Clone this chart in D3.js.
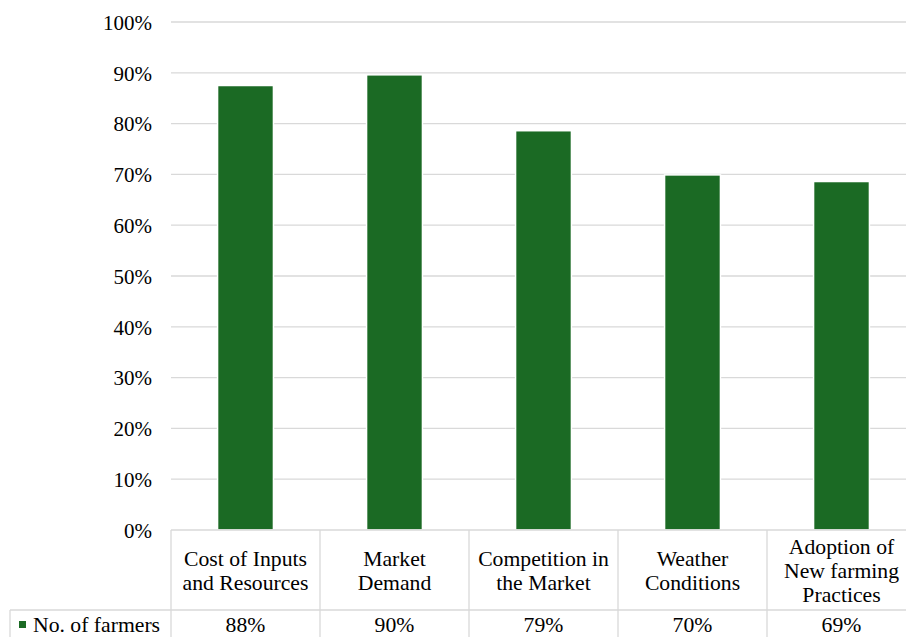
<!DOCTYPE html>
<html>
<head>
<meta charset="utf-8">
<script src="https://cdn.jsdelivr.net/npm/d3@7"></script>
<style>
  body { margin: 0; background: #fff; }
  svg { display: block; }
</style>
</head>
<body>
<svg width="906" height="637"></svg>
<script>
// dati
const categories = [
  ["Cost of Inputs", "and Resources"],
  ["Market", "Demand"],
  ["Competition in", "the Market"],
  ["Weather", "Conditions"],
  ["Adoption of", "New farming", "Practices"]
];
const seriesName = "No. of farmers";
const values = [87.5, 89.6, 78.6, 69.9, 68.6];
const valueLabels = ["88%", "90%", "79%", "70%", "69%"];
const yTicks = [0, 10, 20, 30, 40, 50, 60, 70, 80, 90, 100];

const svg = d3.select("svg");
const font = "'Liberation Serif', 'Times New Roman', serif";
const green = "#1b6a24";
const gridColor = "#d9d9d9";

const plot = { left: 171, right: 916, top: 22, bottom: 530 };
const catRowBottom = 610;
const tableLeft = 10;

const x = d3.scaleBand()
  .domain(d3.range(categories.length))
  .range([plot.left, plot.right])
  .padding(0);

const y = d3.scaleLinear()
  .domain([0, 100])
  .range([plot.bottom, plot.top]);

const barRatio = 0.375;

// griglia orizzontale
svg.append("g")
  .selectAll("line")
  .data(yTicks.filter(d => d > 0))
  .enter()
  .append("line")
  .attr("x1", plot.left)
  .attr("x2", plot.right)
  .attr("y1", d => y(d))
  .attr("y2", d => y(d))
  .style("stroke", gridColor)
  .style("stroke-width", 1.3);

// asse y con etichette
const axis = d3.axisLeft(y)
  .tickValues(yTicks)
  .tickSize(0)
  .tickPadding(19)
  .tickFormat(d => d + "%");

const gAxis = svg.append("g")
  .attr("transform", `translate(${plot.left},0)`)
  .call(axis);
gAxis.select(".domain").remove();
gAxis.selectAll("text")
  .attr("font-family", font)
  .attr("font-size", "21px")
  .attr("fill", "#000")
  .attr("dy", "0.35em");

// barre
svg.append("g")
  .selectAll("rect")
  .data(values)
  .enter()
  .append("rect")
  .attr("x", (d, i) => x(i) + x.bandwidth() * (1 - barRatio) / 2)
  .attr("width", x.bandwidth() * barRatio)
  .attr("y", d => y(d))
  .attr("height", d => y(0) - y(d))
  .style("fill", green)
  .style("stroke", "#fff")
  .style("stroke-width", 1.5);

// tabella dati
const table = svg.append("g")
  .style("stroke", gridColor)
  .style("stroke-width", 1.3);

// linee orizzontali
table.append("line")
  .attr("x1", plot.left).attr("x2", plot.right)
  .attr("y1", plot.bottom).attr("y2", plot.bottom);
table.append("line")
  .attr("x1", tableLeft).attr("x2", plot.right)
  .attr("y1", catRowBottom).attr("y2", catRowBottom);

// linee verticali
const vlines = d3.range(categories.length + 1).map(i => plot.left + i * x.bandwidth());
table.selectAll(".v")
  .data(vlines)
  .enter()
  .append("line")
  .attr("x1", d => d).attr("x2", d => d)
  .attr("y1", plot.bottom).attr("y2", 640);
table.append("line")
  .attr("x1", tableLeft).attr("x2", tableLeft)
  .attr("y1", catRowBottom).attr("y2", 640);

// nomi delle categorie
const lh = 24;
const rowMid = (plot.bottom + catRowBottom) / 2;
categories.forEach((lines, i) => {
  const t = svg.append("text")
    .attr("font-family", font)
    .attr("font-size", "21.7px")
    .attr("fill", "#000")
    .attr("text-anchor", "middle");
  lines.forEach((ln, k) => {
    t.append("tspan")
      .attr("x", x(i) + x.bandwidth() / 2)
      .attr("y", rowMid - (lines.length - 1) / 2 * lh + k * lh)
      .attr("dy", "0.35em")
      .text(ln);
  });
});

// valori
svg.append("g")
  .selectAll("text")
  .data(valueLabels)
  .enter()
  .append("text")
  .attr("x", (d, i) => x(i) + x.bandwidth() / 2)
  .attr("y", 632)
  .attr("text-anchor", "middle")
  .attr("font-family", font)
  .attr("font-size", "21.7px")
  .attr("fill", "#000")
  .text(d => d);

// legenda nella tabella
svg.append("rect")
  .attr("x", 19)
  .attr("y", 621)
  .attr("width", 7)
  .attr("height", 7)
  .style("fill", green);
svg.append("text")
  .attr("x", 33)
  .attr("y", 632)
  .attr("font-family", font)
  .attr("font-size", "21.7px")
  .attr("fill", "#000")
  .text(seriesName);
</script>
</body>
</html>
